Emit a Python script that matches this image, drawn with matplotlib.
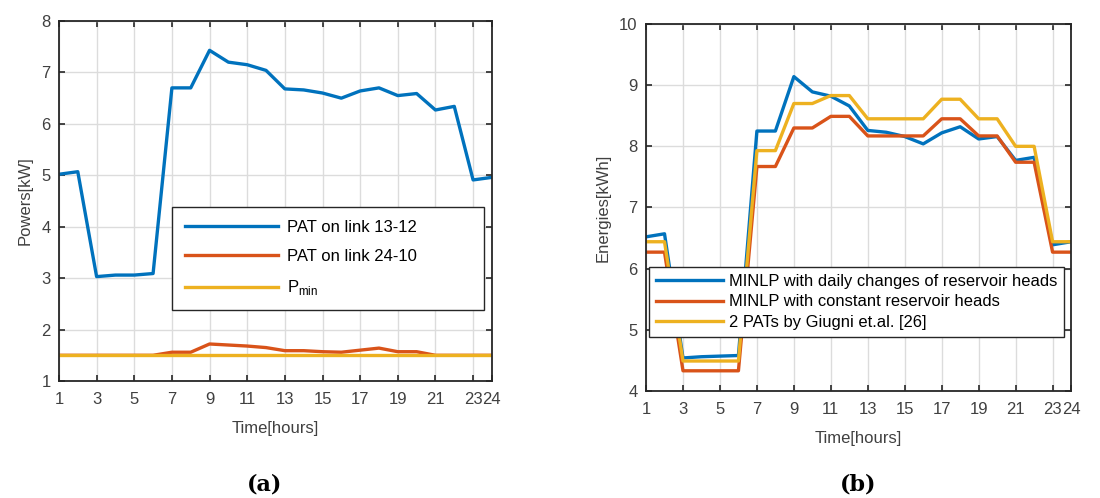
import numpy as np
import matplotlib
matplotlib.use("Agg")
import matplotlib.pyplot as plt

hours = list(range(1, 25))

# (a) powers [kW]
pat_13_12 = [5.02, 5.07, 3.03, 3.06, 3.06, 3.09, 6.70, 6.70, 7.43, 7.20, 7.15, 7.04,
             6.68, 6.66, 6.60, 6.50, 6.64, 6.70, 6.55, 6.59, 6.27, 6.34, 4.91, 4.96]
pat_24_10 = [1.50, 1.50, 1.50, 1.50, 1.50, 1.50, 1.56, 1.56, 1.72, 1.70, 1.68, 1.65,
             1.59, 1.59, 1.57, 1.56, 1.60, 1.64, 1.57, 1.57, 1.50, 1.50, 1.50, 1.50]
p_min = [1.50] * 24

# (b) energies [kWh]
minlp_daily = [6.52, 6.57, 4.54, 4.56, 4.57, 4.58, 8.25, 8.25, 9.14, 8.89, 8.82, 8.66,
               8.26, 8.23, 8.16, 8.04, 8.22, 8.32, 8.12, 8.16, 7.77, 7.82, 6.39, 6.44]
minlp_const = [6.27, 6.27, 4.33, 4.33, 4.33, 4.33, 7.67, 7.67, 8.30, 8.30, 8.49, 8.49,
               8.17, 8.17, 8.17, 8.17, 8.45, 8.45, 8.17, 8.17, 7.74, 7.74, 6.27, 6.27]
giugni = [6.44, 6.44, 4.49, 4.49, 4.49, 4.49, 7.93, 7.93, 8.70, 8.70, 8.83, 8.83,
          8.45, 8.45, 8.45, 8.45, 8.77, 8.77, 8.45, 8.45, 8.00, 8.00, 6.44, 6.44]

xticks = [1, 3, 5, 7, 9, 11, 13, 15, 17, 19, 21, 23, 24]

blue = "#0072BD"
orange = "#D95319"
yellow = "#EDB120"
dark = "#262626"
txt = "#404040"

plt.rcParams['font.family'] = ['Liberation Sans', 'DejaVu Sans']
plt.rcParams['mathtext.fontset'] = 'custom'
plt.rcParams['mathtext.rm'] = 'Liberation Sans'
plt.rcParams['font.size'] = 12


def style_axes(ax):
    ax.set_xlim(1, 24)
    ax.set_xticks(xticks)
    ax.grid(True, color="#dcdcdc", linewidth=1.0)
    ax.set_axisbelow(True)
    ax.tick_params(direction="in", top=True, right=True, length=4,
                   width=1.2, colors=dark, labelcolor=txt, labelsize=12)
    ax.tick_params(axis="x", pad=8)
    ax.tick_params(axis="y", pad=6)
    for s in ax.spines.values():
        s.set_color(dark)
        s.set_linewidth(1.3)
    ax.set_xlabel("Time[hours]", color=txt, fontsize=12, labelpad=10)


fig = plt.figure(figsize=(11, 4.98), dpi=100)

ax1 = fig.add_axes([0.0536, 0.2349, 0.3936, 0.7229])
ax1.plot(hours, pat_13_12, color=blue, lw=2.4, label="PAT on link 13-12")
ax1.plot(hours, pat_24_10, color=orange, lw=2.4, label="PAT on link 24-10")
ax1.plot(hours, p_min, color=yellow, lw=2.4, label=r"P$_{\rm min}$")
ax1.set_ylim(1, 8)
style_axes(ax1)
ax1.set_ylabel("Powers[kW]", color=txt, fontsize=12, labelpad=6)
leg1 = ax1.legend(loc="upper left", bbox_to_anchor=(0.261, 0.483, 0.72, 0.0),
                  mode="expand", borderaxespad=0, handlelength=5.6,
                  handletextpad=0.55, labelspacing=0.86, borderpad=0.76,
                  fancybox=False, edgecolor=dark, framealpha=1, fontsize=12)
leg1.get_frame().set_linewidth(1.0)

ax2 = fig.add_axes([0.5873, 0.2149, 0.3864, 0.7369])
ax2.plot(hours, minlp_daily, color=blue, lw=2.4,
         label="MINLP with daily changes of reservoir heads")
ax2.plot(hours, minlp_const, color=orange, lw=2.4,
         label="MINLP with constant reservoir heads")
ax2.plot(hours, giugni, color=yellow, lw=2.4,
         label="2 PATs by Giugni et.al. [26]")
ax2.set_ylim(4, 10)
style_axes(ax2)
ax2.set_ylabel("Energies[kWh]", color=txt, fontsize=12, labelpad=6)
leg2 = ax2.legend(loc="upper left", bbox_to_anchor=(0.007, 0.338, 0.977, 0.0),
                  mode="expand", borderaxespad=0, handlelength=4.1,
                  handletextpad=0.35, labelspacing=0.35, borderpad=0.4,
                  fancybox=False, edgecolor=dark, framealpha=1, fontsize=11.9)
leg2.get_frame().set_linewidth(1.0)

fig.text(265 / 1100, 1 - 484 / 498, "(a)", ha="center", va="center",
         fontsize=16, fontweight="bold", family="DejaVu Serif")
fig.text(858 / 1100, 1 - 484 / 498, "(b)", ha="center", va="center",
         fontsize=16, fontweight="bold", family="DejaVu Serif")

fig.savefig("out.png", dpi=100)
